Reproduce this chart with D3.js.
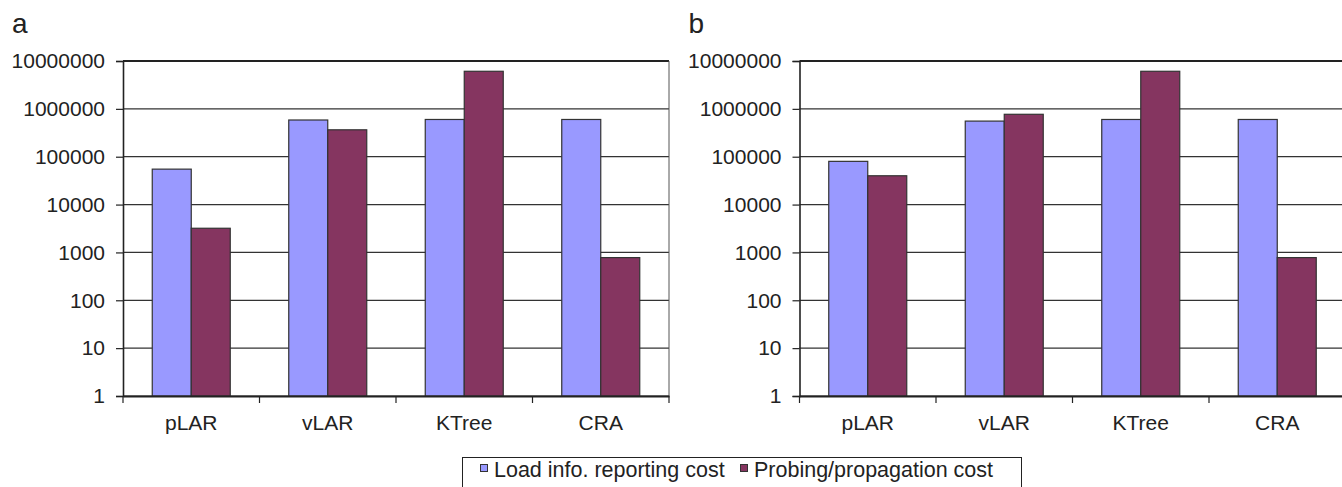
<!DOCTYPE html>
<html>
<head>
<meta charset="utf-8">
<script src="https://cdn.jsdelivr.net/npm/d3@7"></script>
<style>
  html, body { margin: 0; padding: 0; background: #fff; }
  svg { display: block; }
  text { font-family: "Liberation Sans", Arial, sans-serif; fill: #222; }
</style>
</head>
<body>
<svg id="chart" width="1342" height="487"></svg>
<script>
// ---- data ----
const categories = ["pLAR", "vLAR", "KTree", "CRA"];
const seriesNames = ["Load info. reporting cost", "Probing/propagation cost"];
const panelLabels = ["a", "b"];
// panel a
const loadCostA = [55000, 585000, 600000, 600000];
const probeCostA = [3200, 365000, 6100000, 780];
// panel b
const loadCostB = [80000, 555000, 600000, 600000];
const probeCostB = [40000, 770000, 6100000, 780];
const yTickValues = [1, 10, 100, 1000, 10000, 100000, 1000000, 10000000];
const seriesColors = ["#9999FF", "#853560"];

(function () {
const panels = [
  { label: panelLabels[0], values: [loadCostA, probeCostA], left: 123 },
  { label: panelLabels[1], values: [loadCostB, probeCostB], left: 799.5 }
];

const svg = d3.select("#chart");
const plotTop = 61, plotBottom = 396, plotW = 546;
const fs = 21;

panels.forEach(p => {
  const g = svg.append("g");
  const x0 = d3.scaleBand().domain(categories).range([p.left, p.left + plotW]).paddingInner(0).paddingOuter(0);
  const x1 = d3.scaleBand().domain(seriesNames).range([0, x0.bandwidth()]).paddingInner(0).paddingOuter(0.75);
  const y = d3.scaleLog().domain([1, 1e7]).range([plotBottom, plotTop]);

  // gridlines
  g.selectAll("line.grid").data(yTickValues).enter().append("line")
    .attr("x1", p.left).attr("x2", p.left + plotW)
    .attr("y1", d => y(d)).attr("y2", d => y(d))
    .attr("stroke", d => d === 1e7 ? "#222" : "#333")
    .attr("stroke-width", d => d === 1e7 ? 2 : 1.2);

  // right border
  g.append("line").attr("x1", p.left + plotW).attr("x2", p.left + plotW)
    .attr("y1", plotTop).attr("y2", plotBottom).attr("stroke", "#555").attr("stroke-width", 1);

  // bars
  const rows = categories.map((c, i) => ({ cat: c, vals: seriesNames.map((s, j) => ({ s, v: p.values[j][i], j })) }));
  const grp = g.selectAll("g.cat").data(rows).enter().append("g")
    .attr("transform", d => `translate(${x0(d.cat)},0)`);
  grp.selectAll("rect").data(d => d.vals).enter().append("rect")
    .attr("x", d => x1(d.s))
    .attr("width", x1.bandwidth())
    .attr("y", d => y(d.v))
    .attr("height", d => plotBottom - y(d.v))
    .attr("fill", d => seriesColors[d.j])
    .attr("stroke", "#333")
    .attr("stroke-width", 1.2);

  // y axis
  const yAxis = d3.axisLeft(y).tickValues(yTickValues).tickFormat(d3.format("d")).tickSize(7).tickPadding(11);
  const ya = g.append("g").attr("transform", `translate(${p.left},0)`).call(yAxis);
  ya.select(".domain").attr("stroke", "#222").attr("stroke-width", 1.6);
  ya.selectAll(".tick line").attr("stroke", "#222").attr("stroke-width", 1.2);
  ya.selectAll(".tick text").attr("font-size", fs).attr("fill", "#222")
    .attr("font-family", "Liberation Sans, Arial, sans-serif");

  // x axis
  const xAxis = d3.axisBottom(x0).tickSize(0).tickPadding(19.5);
  const xa = g.append("g").attr("transform", `translate(0,${plotBottom})`).call(xAxis);
  xa.select(".domain").attr("stroke", "#222").attr("stroke-width", 2);
  xa.selectAll(".tick text").attr("font-size", fs).attr("fill", "#222")
    .attr("font-family", "Liberation Sans, Arial, sans-serif");
  // boundary ticks
  const bounds = categories.map(c => x0(c)).concat([p.left + plotW]);
  xa.selectAll("line.bt").data(bounds).enter().append("line")
    .attr("x1", d => d).attr("x2", d => d).attr("y1", 0).attr("y2", 7)
    .attr("stroke", "#222").attr("stroke-width", 1.2);

  // panel label
  svg.append("text").attr("x", p.left - 111).attr("y", 33)
    .attr("font-size", 28).text(p.label);
});

// legend
const lg = svg.append("g");
lg.append("rect").attr("x", 462.5).attr("y", 457.5).attr("width", 559).attr("height", 40)
  .attr("fill", "#fff").attr("stroke", "#222").attr("stroke-width", 1);
const legendX = [480, 740];
seriesNames.forEach((s, i) => {
  lg.append("rect").attr("x", legendX[i] + 0.5).attr("y", 464.5).attr("width", 7).attr("height", 7)
    .attr("fill", seriesColors[i]).attr("stroke", "#333").attr("stroke-width", 1);
  lg.append("text").attr("x", legendX[i] + 14).attr("y", 477).attr("font-size", 21.5)
    .text(s);
});
})();
</script>
</body>
</html>
